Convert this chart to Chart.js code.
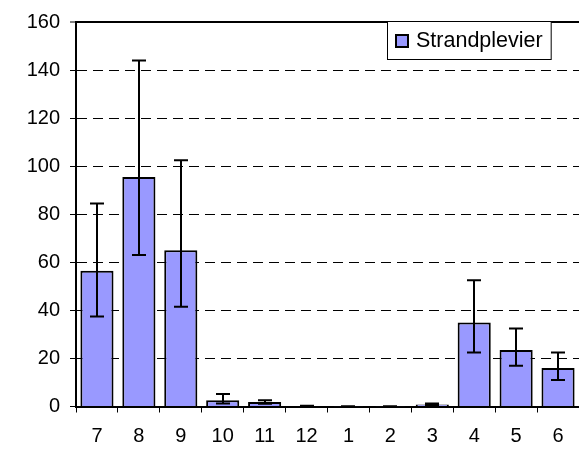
<!DOCTYPE html>
<html>
<head>
<meta charset="utf-8">
<script src="https://cdn.jsdelivr.net/npm/chart.js@4/dist/chart.umd.min.js"></script>
<style>
  html, body { margin: 0; padding: 0; background: #fff; }
  #wrap { width: 579px; height: 450px; position: relative; }
</style>
</head>
<body>
<div id="wrap"><canvas id="c" width="579" height="450"></canvas></div>
<script>
const months = ['7', '8', '9', '10', '11', '12', '1', '2', '3', '4', '5', '6'];
const seriesName = 'Strandplevier';
const means = [56.5, 95.5, 65, 2.6, 1.9, 0.2, 0.1, 0.1, 0.8, 35, 23.5, 16];
const upper = [84.5, 144, 102.5, 5.2, 2.6, 0.3, 0.15, 0.15, 1.2, 52.5, 32.5, 22.5];
const lower = [37.5, 63, 41.5, 1.2, 1.1, 0.1, 0.05, 0.05, 0.4, 22.5, 17, 11];
const yTicks = [0, 20, 40, 60, 80, 100, 120, 140, 160];

const FONT = 'Liberation Sans, Arial, sans-serif';

const errorBars = {
  id: 'errorBars',
  afterDatasetsDraw(chart) {
    const ctx = chart.ctx;
    const meta = chart.getDatasetMeta(0);
    const y = chart.scales.y;
    ctx.save();
    ctx.strokeStyle = '#000';
    ctx.lineWidth = 2;
    meta.data.forEach((bar, i) => {
      const x = Math.round(bar.x);
      const yh = y.getPixelForValue(upper[i]);
      const yl = y.getPixelForValue(lower[i]);
      ctx.beginPath();
      ctx.moveTo(x, yh); ctx.lineTo(x, yl);
      ctx.moveTo(x - 7, yh); ctx.lineTo(x + 7, yh);
      ctx.moveTo(x - 7, yl); ctx.lineTo(x + 7, yl);
      ctx.stroke();
    });
    ctx.restore();
  }
};

const boxLegend = {
  id: 'boxLegend',
  afterDraw(chart) {
    const ctx = chart.ctx;
    const area = chart.chartArea;
    ctx.save();
    ctx.font = '21.5px ' + FONT;
    const tw = ctx.measureText(seriesName).width;
    const w = 8 + 13 + 8 + tw + 8;
    const h = 38;
    const x0 = Math.round(area.right - 28 - w) + 0.5;
    const y0 = Math.round(area.top) - 0.5;
    ctx.fillStyle = '#fff';
    ctx.fillRect(x0, y0, w, h);
    ctx.strokeStyle = '#000';
    ctx.lineWidth = 1;
    ctx.strokeRect(x0, y0, w, h);
    const sq = 12;
    const sx = x0 + 8.5, sy = y0 + h / 2 - sq / 2 + 0.5;
    ctx.fillStyle = '#9999FF';
    ctx.fillRect(sx, sy, sq, sq);
    ctx.lineWidth = 2;
    ctx.strokeRect(sx, sy, sq, sq);
    ctx.fillStyle = '#000';
    ctx.textBaseline = 'middle';
    ctx.textAlign = 'left';
    ctx.fillText(seriesName, sx + sq + 8, y0 + h / 2 + 1);
    ctx.restore();
  }
};

new Chart(document.getElementById('c'), {
  type: 'bar',
  data: {
    labels: months,
    datasets: [{
      label: seriesName,
      data: means,
      backgroundColor: '#9999FF',
      borderColor: '#000',
      borderWidth: 2,
      barPercentage: 0.79,
      categoryPercentage: 1.0
    }]
  },
  options: {
    responsive: false,
    animation: false,
    devicePixelRatio: 1,
    layout: { padding: { top: 20, right: 0, left: 0, bottom: 0 } },
    plugins: { legend: { display: false }, tooltip: { enabled: false } },
    scales: {
      x: {
        afterFit(scale) { scale.height = 43.5; },
        grid: {
          offset: true,
          drawOnChartArea: false,
          drawTicks: true,
          tickLength: 6,
          tickColor: '#000',
          tickWidth: 1
        },
        border: { display: true, color: '#000', width: 2 },
        ticks: {
          color: '#000',
          font: { family: FONT, size: 20 },
          padding: 12,
          maxRotation: 0,
          autoSkip: false
        }
      },
      y: {
        min: 0,
        max: 160,
        afterFit(scale) { scale.width = 76; },
        afterBuildTicks(scale) { scale.ticks = yTicks.map(v => ({ value: v })); },
        grid: {
          color: '#000',
          lineWidth: (c) => (c.tick && c.tick.value === 160 ? 2 : 1),
          drawTicks: true,
          tickLength: 6,
          tickColor: '#000',
          tickWidth: 1
        },
        border: {
          display: true,
          color: '#000',
          width: 2,
          dash: (c) => (c.type === 'tick' && c.tick && (c.tick.value === 160 || c.tick.value === 0) ? [] : [10, 6])
        },
        ticks: {
          color: '#000',
          font: { family: FONT, size: 20 },
          padding: 10
        }
      }
    }
  },
  plugins: [errorBars, boxLegend]
});
</script>
</body>
</html>
